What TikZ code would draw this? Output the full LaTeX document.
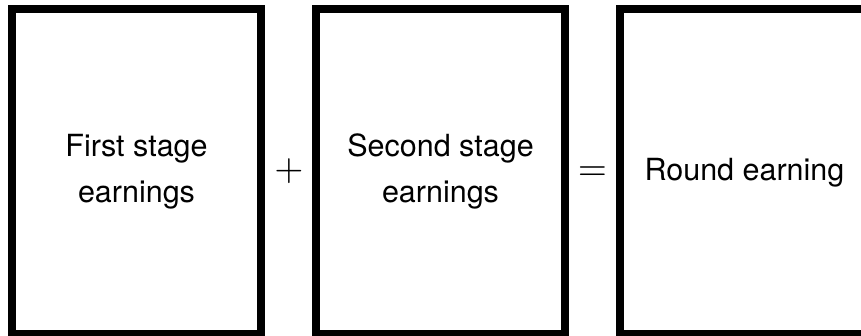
\documentclass[tikz,border=0pt]{standalone}
\usepackage{fontspec}
\setmainfont{TeX Gyre Heros}
\begin{document}
\begin{tikzpicture}[x=1pt,y=-1pt,
  box/.style={draw=black,line width=8pt,minimum width=249pt,minimum height=325pt,
    inner sep=0pt,align=center,font=\fontsize{30.5}{46.5}\selectfont},
  op/.style={inner sep=0pt,anchor=base}]
\useasboundingbox (0,0) rectangle (861,336);
\clip (0,0) rectangle (861,336);
\node[box] (b1) at (136.5,171.5) {First stage\\earnings};
\node[box] (b2) at (440.5,171.5) {Second stage\\earnings};
\node[box] (b3) at (744.5,171.5) {};
\node[inner sep=0pt,font=\fontsize{30.5}{46.5}\selectfont] (t3) at (744.5,172.5) {Round earning};
\node[op] (plus) at (289,180.5) {\scalebox{3.75}{$+$}};
\node[op] (eq) at (592.5,180.5) {\scalebox{3.75}{$=$}};
\end{tikzpicture}
\end{document}
